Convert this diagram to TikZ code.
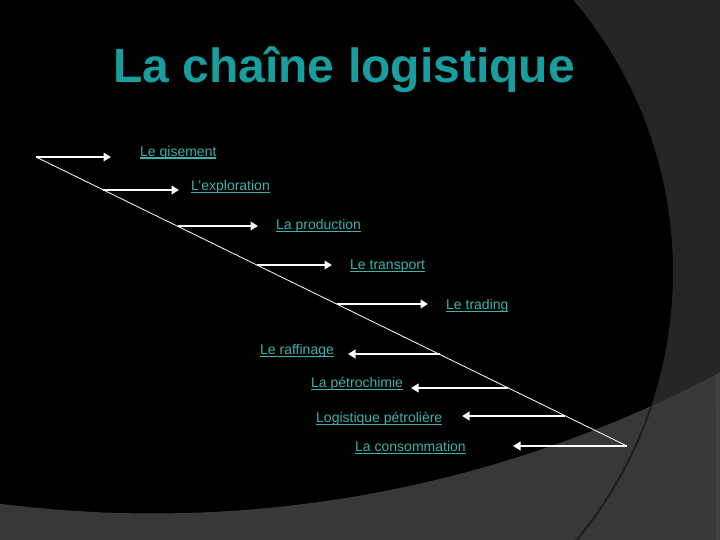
\documentclass[tikz,border=0pt]{standalone}
\usepackage{fontspec}
\setmainfont{Liberation Sans}
\usepackage{tikz}
\usetikzlibrary{arrows.meta, positioning}
\definecolor{bandgray}{RGB}{37,37,37}
\definecolor{lowgray}{RGB}{56,56,56}
\definecolor{stripgray}{RGB}{64,64,64}
\definecolor{rimgray}{RGB}{30,30,30}
\definecolor{titleteal}{RGB}{24,158,158}
\definecolor{linkteal}{RGB}{60,178,170}
\tikzstyle{titre}=[text=titleteal,font=\fontsize{48}{56}\selectfont\bfseries,anchor=base,inner sep=0pt]
\tikzstyle{lnk}=[text=linkteal,font=\fontsize{14}{16}\selectfont,anchor=base west,inner sep=0pt]
\tikzstyle{fleche}=[white,line width=2.6pt,->]
\tikzstyle{diag}=[white,line width=0.8pt]
\newcommand{\lien}[1]{\setbox0=\hbox{#1}\rlap{\color{linkteal}\rule[-2.4pt]{\wd0}{1.4pt}}\box0}

\begin{document}
\begin{tikzpicture}[x=1pt,y=-1pt,>={Triangle[length=7.5pt,width=8.5pt]}]
    \useasboundingbox (0,0) rectangle (720,540);
    \fill[black] (0,0) rectangle (720,540);
    \begin{scope}
        \clip (0,0) rectangle (720,540);
        \fill[bandgray,even odd rule] (-10,-10) rectangle (730,550) (252,272) circle (421pt);
    \end{scope}
    \fill[lowgray] (0,540) -- plot[domain=97.27:62.06,samples=50] ({153+1209.5*cos(\x)},{-696+1209.5*sin(\x)}) -- (720,540) -- cycle;
    \begin{scope}
        \clip (0,540) -- plot[domain=97.27:62.06,samples=50] ({153+1209.5*cos(\x)},{-696+1209.5*sin(\x)}) -- (720,540) -- cycle;
        \fill[stripgray] (716,0) rectangle (720,540);
        \draw[rimgray,line width=2pt] (252,272) circle (421pt);
    \end{scope}

    \node[titre] (titre) at (344,83) {La chaîne logistique};

    \node[lnk] (gis) at (140,156.5) {\lien{Le gisement}};
    \node[lnk] (expl) at (191,190.5) {\lien{L'exploration}};
    \node[lnk] (prod) at (276,229.5) {\lien{La production}};
    \node[lnk] (trans) at (350,269.5) {\lien{Le transport}};
    \node[lnk] (trad) at (446,309.5) {\lien{Le trading}};
    \node[lnk] (raff) at (260,354.5) {\lien{Le raffinage}};
    \node[lnk] (petro) at (311,387.5) {\lien{La pétrochimie}};
    \node[lnk] (logi) at (316,422.5) {\lien{Logistique pétrolière}};
    \node[lnk] (conso) at (355,451.5) {\lien{La consommation}};

    \coordinate (haut) at (36,157);
    \coordinate (bas) at (627,446);
    \coordinate (s1) at (36,157);
    \coordinate (s2) at (103,190);
    \coordinate (s3) at (178,226);
    \coordinate (s4) at (257,265);
    \coordinate (s5) at (337,304);
    \coordinate (s6) at (440,354);
    \coordinate (s7) at (508,388);
    \coordinate (s8) at (565,416);
    \coordinate (s9) at (627,446);
    \coordinate (t1) at (111,157);
    \coordinate (t2) at (179,190);
    \coordinate (t3) at (258,226);
    \coordinate (t4) at (332,265);
    \coordinate (t5) at (428,304);
    \coordinate (t6) at (348,354);
    \coordinate (t7) at (411,388);
    \coordinate (t8) at (462,416);
    \coordinate (t9) at (513,446);

    \draw[diag] (haut) -- (bas);
    \draw[fleche] (s1) -- (t1);
    \draw[fleche] (s2) -- (t2);
    \draw[fleche] (s3) -- (t3);
    \draw[fleche] (s4) -- (t4);
    \draw[fleche] (s5) -- (t5);
    \draw[fleche] (s6) -- (t6);
    \draw[fleche] (s7) -- (t7);
    \draw[fleche] (s8) -- (t8);
    \draw[fleche] (s9) -- (t9);
\end{tikzpicture}
\end{document}
